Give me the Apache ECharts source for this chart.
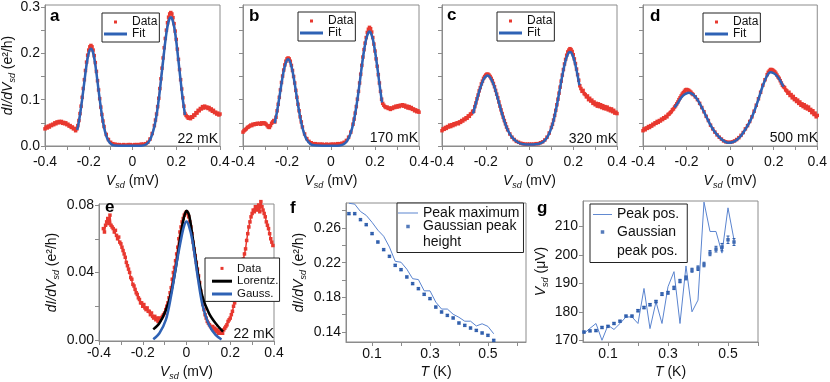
<!DOCTYPE html>
<html>
<head>
<meta charset="utf-8">
<script src="https://cdn.jsdelivr.net/npm/echarts@6.0.0/dist/echarts.min.js"></script>
<style>
  html, body { margin: 0; padding: 0; background: #fff; }
  #chart { width: 830px; height: 382px; }
</style>
</head>
<body>
<div id="chart"></div>
<script>
// ---------------- data ----------------
// panels a-d : dI/dV vs Vsd, [Vsd (mV), dI/dV (e^2/h)]
const dataA = [[-0.400,.037],[-0.395,.041],[-0.390,.039],[-0.385,.043],[-0.380,.041],[-0.375,.045],[-0.370,.044],[-0.365,.047],[-0.360,.046],[-0.355,.050],[-0.350,.048],[-0.345,.052],[-0.340,.050],[-0.335,.053],[-0.330,.051],[-0.325,.053],[-0.320,.049],[-0.315,.051],[-0.310,.048],[-0.305,.050],[-0.300,.046],[-0.295,.047],[-0.290,.043],[-0.285,.044],[-0.280,.040],[-0.275,.041],[-0.270,.037],[-0.265,.038],[-0.260,.033],
  [-0.255,.037],[-0.250,.044],[-0.245,.055],[-0.240,.070],[-0.235,.086],[-0.230,.105],[-0.225,.124],[-0.220,.143],[-0.215,.163],[-0.210,.181],[-0.205,.196],[-0.200,.207],[-0.195,.214],[-0.190,.217],[-0.185,.214],[-0.180,.207],[-0.175,.195],[-0.170,.180],[-0.165,.161],[-0.160,.141],[-0.155,.121],[-0.150,.102],[-0.145,.084],[-0.140,.068],[-0.135,.054],[-0.130,.042],[-0.120,.025],[-0.110,.014],[-0.100,.008],[-0.090,.005],[-0.080,.004],[-0.070,.003],[-0.060,.003],[-0.050,.002],[-0.040,.003],[-0.030,.002],[-0.020,.003],[-0.010,.003],[0,.002],[0.010,.003],[0.020,.003],[0.030,.003],[0.040,.004],[0.050,.004],[0.060,.005],[0.070,.008],[0.080,.015],[0.090,.027],[0.100,.044],[0.105,.056],[0.110,.069],[0.115,.085],[0.120,.103],[0.125,.124],[0.130,.145],[0.135,.168],[0.140,.190],[0.145,.212],[0.150,.232],[0.155,.250],[0.160,.266],[0.165,.278],[0.170,.285],[0.175,.288],[0.180,.285],[0.185,.277],[0.190,.264],[0.195,.248],[0.200,.230],[0.205,.209],[0.210,.187],[0.215,.165],[0.220,.143],[0.225,.123],[0.230,.104],[0.235,.086],[0.240,.070],
  [0.245,.066],[0.250,.063],[0.255,.060],[0.260,.062],[0.265,.059],[0.270,.063],[0.275,.062],[0.280,.067],[0.285,.066],[0.290,.072],[0.295,.071],[0.300,.077],[0.305,.076],[0.310,.081],[0.315,.080],[0.320,.085],[0.325,.082],[0.330,.086],[0.335,.083],[0.340,.084],[0.345,.081],[0.350,.083],[0.355,.078],[0.360,.080],[0.365,.075],[0.370,.077],[0.375,.072],[0.380,.073],[0.385,.069],[0.390,.071],[0.395,.067],[0.400,.069]];
const fitA = [[-0.253,.035],[-0.25,.040],[-0.24,.067],[-0.23,.101],[-0.22,.139],[-0.21,.175],[-0.20,.201],[-0.19,.210],[-0.18,.201],[-0.17,.175],[-0.16,.139],[-0.15,.101],[-0.14,.067],[-0.13,.040],[-0.12,.022],[-0.11,.011],[-0.10,.005],[-0.09,.002],[-0.08,.001],[-0.04,.0005],[0,.0005],[0.04,.0008],[0.06,.003],[0.07,.007],[0.08,.013],[0.09,.025],[0.10,.042],[0.11,.067],[0.12,.100],[0.13,.141],[0.14,.184],[0.15,.226],[0.16,.258],[0.17,.276],[0.175,.278],[0.18,.276],[0.19,.258],[0.20,.226],[0.21,.184],[0.22,.141],[0.23,.100],[0.24,.067]];

const dataB = [[-0.400,.030],[-0.395,.033],[-0.390,.035],[-0.385,.037],[-0.380,.040],[-0.375,.041],[-0.370,.043],[-0.365,.045],[-0.360,.044],[-0.355,.047],[-0.350,.046],[-0.345,.048],[-0.340,.047],[-0.335,.049],[-0.330,.048],[-0.325,.049],[-0.320,.047],[-0.315,.050],[-0.310,.048],[-0.305,.050],[-0.300,.049],[-0.295,.047],[-0.290,.044],[-0.285,.041],[-0.280,.040],[-0.275,.044],[-0.270,.049],[-0.265,.052],[-0.260,.055],
  [-0.255,.052],[-0.250,.062],[-0.245,.076],[-0.240,.090],[-0.235,.105],[-0.230,.121],[-0.225,.137],[-0.220,.151],[-0.215,.164],[-0.210,.175],[-0.205,.183],[-0.200,.188],[-0.195,.190],[-0.190,.188],[-0.185,.183],[-0.180,.174],[-0.175,.163],[-0.170,.150],[-0.165,.136],[-0.160,.120],[-0.155,.105],[-0.150,.090],[-0.145,.076],[-0.140,.063],[-0.135,.052],[-0.130,.041],[-0.120,.026],[-0.110,.016],[-0.100,.010],[-0.090,.007],[-0.080,.005],[-0.070,.005],[-0.060,.004],[-0.050,.004],[-0.040,.004],[-0.030,.003],[-0.020,.004],[-0.010,.003],[0,.004],[0.010,.004],[0.020,.004],[0.030,.005],[0.040,.005],[0.050,.006],[0.060,.008],[0.070,.012],[0.080,.019],[0.090,.030],[0.100,.047],[0.105,.058],[0.110,.071],[0.115,.085],[0.120,.101],[0.125,.118],[0.130,.136],[0.135,.155],[0.140,.174],[0.145,.192],[0.150,.208],[0.155,.222],[0.160,.234],[0.165,.245],[0.170,.252],[0.175,.256],[0.180,.253],[0.185,.246],[0.190,.234],[0.195,.220],[0.200,.205],[0.205,.188],[0.210,.172],[0.215,.154],[0.220,.136],[0.225,.118],[0.230,.101],
  [0.235,.092],[0.240,.088],[0.245,.085],[0.250,.083],[0.255,.084],[0.260,.081],[0.265,.082],[0.270,.079],[0.275,.082],[0.280,.081],[0.285,.084],[0.290,.083],[0.295,.086],[0.300,.084],[0.305,.087],[0.310,.085],[0.315,.088],[0.320,.087],[0.325,.089],[0.330,.086],[0.335,.088],[0.340,.084],[0.345,.086],[0.350,.082],[0.355,.085],[0.360,.081],[0.365,.083],[0.370,.079],[0.375,.080],[0.380,.076],[0.385,.078],[0.390,.074],[0.395,.076],[0.400,.073]];
const fitB = [[-0.256,.049],[-0.25,.063],[-0.245,.075],[-0.235,.104],[-0.225,.135],[-0.215,.162],[-0.205,.180],[-0.195,.187],[-0.185,.180],[-0.175,.162],[-0.165,.135],[-0.155,.104],[-0.145,.075],[-0.135,.050],[-0.125,.031],[-0.115,.018],[-0.105,.010],[-0.095,.005],[-0.085,.002],[-0.06,.001],[-0.02,.0005],[0.02,.0005],[0.04,.0011],[0.05,.0024],[0.06,.0048],[0.07,.0093],[0.08,.017],[0.09,.029],[0.10,.046],[0.11,.070],[0.12,.100],[0.13,.135],[0.14,.172],[0.15,.205],[0.16,.231],[0.17,.245],[0.175,.247],[0.18,.245],[0.19,.231],[0.20,.205],[0.21,.172],[0.22,.135],[0.23,.100],[0.232,.094]];

const dataC = [[-0.400,.033],[-0.395,.037],[-0.390,.036],[-0.385,.040],[-0.380,.038],[-0.375,.042],[-0.370,.041],[-0.365,.045],[-0.360,.042],[-0.355,.046],[-0.350,.044],[-0.345,.048],[-0.340,.046],[-0.335,.049],[-0.330,.050],[-0.325,.048],[-0.320,.052],[-0.315,.051],[-0.310,.055],[-0.305,.054],[-0.300,.058],[-0.295,.057],[-0.290,.061],[-0.285,.060],[-0.280,.065],[-0.275,.064],[-0.270,.069],[-0.265,.070],[-0.260,.075],
  [-0.255,.075],[-0.250,.085],[-0.245,.093],[-0.240,.102],[-0.235,.110],[-0.230,.119],[-0.225,.126],[-0.220,.134],[-0.215,.140],[-0.210,.146],[-0.205,.150],[-0.200,.153],[-0.195,.155],[-0.190,.155],[-0.185,.153],[-0.180,.150],[-0.175,.146],[-0.170,.141],[-0.165,.135],[-0.160,.128],[-0.155,.120],[-0.150,.112],[-0.145,.104],[-0.140,.095],[-0.135,.086],[-0.130,.078],[-0.125,.070],[-0.120,.062],[-0.115,.055],[-0.110,.048],[-0.105,.041],[-0.100,.035],[-0.090,.026],[-0.080,.019],[-0.070,.014],[-0.060,.010],[-0.050,.008],[-0.040,.006],[-0.030,.005],[-0.020,.004],[-0.010,.004],[0,.004],[0.010,.004],[0.020,.004],[0.030,.005],[0.040,.005],[0.050,.007],[0.060,.009],[0.070,.013],[0.080,.019],[0.090,.028],[0.100,.040],[0.105,.047],[0.110,.056],[0.115,.066],[0.120,.077],[0.125,.089],[0.130,.101],[0.135,.114],[0.140,.127],[0.145,.140],[0.150,.153],[0.155,.165],[0.160,.177],[0.165,.187],[0.170,.196],[0.175,.203],[0.180,.207],[0.185,.210],[0.190,.208],[0.195,.204],[0.200,.197],[0.205,.188],[0.210,.178],[0.215,.166],[0.220,.154],[0.225,.142],[0.230,.130],
  [0.235,.124],[0.240,.118],[0.245,.120],[0.250,.113],[0.255,.111],[0.260,.106],[0.265,.108],[0.270,.100],[0.275,.103],[0.280,.097],[0.285,.099],[0.290,.092],[0.295,.095],[0.300,.089],[0.305,.092],[0.310,.086],[0.315,.091],[0.320,.085],[0.325,.089],[0.330,.083],[0.335,.087],[0.340,.081],[0.345,.085],[0.350,.080],[0.355,.084],[0.360,.078],[0.365,.081],[0.370,.076],[0.375,.080],[0.380,.074],[0.385,.077],[0.390,.071],[0.395,.073],[0.400,.070]];
const fitC = [[-0.258,.070],[-0.25,.084],[-0.24,.101],[-0.23,.118],[-0.22,.132],[-0.21,.144],[-0.20,.150],[-0.192,.152],[-0.18,.148],[-0.17,.139],[-0.16,.127],[-0.15,.111],[-0.14,.094],[-0.13,.077],[-0.12,.061],[-0.11,.047],[-0.10,.035],[-0.09,.026],[-0.08,.019],[-0.07,.014],[-0.06,.010],[-0.05,.007],[-0.04,.005],[-0.03,.004],[-0.02,.0035],[-0.01,.003],[0,.003],[0.01,.003],[0.02,.0033],[0.03,.004],[0.04,.0045],[0.05,.006],[0.06,.008],[0.07,.012],[0.08,.018],[0.09,.027],[0.10,.039],[0.11,.055],[0.12,.076],[0.13,.100],[0.14,.126],[0.15,.152],[0.16,.175],[0.17,.192],[0.18,.202],[0.185,.203],[0.19,.202],[0.20,.192],[0.21,.175],[0.22,.152],[0.228,.131]];

const dataD = [[-0.400,.033],[-0.395,.037],[-0.390,.035],[-0.385,.039],[-0.380,.038],[-0.375,.042],[-0.370,.040],[-0.365,.044],[-0.360,.043],[-0.355,.047],[-0.350,.046],[-0.345,.050],[-0.340,.049],[-0.335,.053],[-0.330,.051],[-0.325,.055],[-0.320,.054],[-0.315,.058],[-0.310,.057],[-0.305,.061],[-0.300,.060],[-0.295,.064],[-0.290,.063],[-0.285,.068],[-0.280,.069],[-0.275,.072],[-0.270,.074],[-0.265,.078],[-0.260,.080],
  [-0.255,.084],[-0.250,.087],[-0.245,.091],[-0.240,.095],[-0.235,.100],[-0.230,.104],[-0.225,.108],[-0.220,.112],[-0.215,.115],[-0.210,.118],[-0.205,.121],[-0.200,.122],[-0.195,.121],[-0.190,.120],[-0.185,.118],[-0.180,.116],[-0.175,.113],[-0.170,.111],[-0.160,.106],[-0.150,.100],[-0.140,.092],[-0.130,.083],[-0.120,.074],[-0.110,.064],[-0.100,.055],[-0.090,.045],[-0.080,.037],[-0.070,.030],[-0.060,.024],[-0.050,.019],[-0.040,.015],[-0.030,.011],[-0.020,.009],[-0.010,.008],[0,.008],[0.010,.009],[0.020,.011],[0.030,.014],[0.040,.018],[0.050,.023],[0.060,.029],[0.070,.037],[0.080,.044],[0.090,.053],[0.100,.063],[0.110,.075],[0.120,.088],[0.130,.102],[0.140,.116],[0.150,.131],[0.160,.143],[0.170,.154],[0.175,.159],[0.180,.162],[0.185,.165],[0.190,.165],[0.195,.164],[0.200,.162],[0.205,.160],[0.210,.157],[0.215,.153],[0.220,.149],[0.225,.146],[0.230,.141],[0.235,.136],[0.240,.131],
  [0.245,.128],[0.250,.126],[0.255,.121],[0.260,.119],[0.265,.114],[0.270,.116],[0.275,.109],[0.280,.111],[0.285,.104],[0.290,.107],[0.295,.100],[0.300,.102],[0.305,.096],[0.310,.099],[0.315,.092],[0.320,.095],[0.325,.088],[0.330,.091],[0.335,.085],[0.340,.089],[0.345,.082],[0.350,.086],[0.355,.080],[0.360,.084],[0.365,.077],[0.370,.079],[0.375,.072],[0.380,.076],[0.385,.068],[0.390,.071],[0.395,.063],[0.400,.066]];
const fitD = [[-0.255,.083],[-0.24,.093],[-0.225,.104],[-0.21,.111],[-0.19,.115],[-0.17,.111],[-0.15,.100],[-0.13,.083],[-0.11,.064],[-0.09,.045],[-0.07,.030],[-0.05,.019],[-0.03,.011],[-0.01,.007],[0.01,.008],[0.03,.013],[0.05,.022],[0.07,.036],[0.09,.052],[0.11,.074],[0.13,.101],[0.15,.130],[0.17,.152],[0.185,.159],[0.20,.157],[0.215,.151],[0.23,.141],[0.245,.128]];

// panel e : zero-bias peak at 22 mK
const dataE = [[-0.380,.066],[-0.375,.064],[-0.370,.068],[-0.365,.070],[-0.360,.072],[-0.355,.069],[-0.350,.074],[-0.345,.068],[-0.340,.067],[-0.335,.066],[-0.330,.064],[-0.325,.065],[-0.320,.062],[-0.315,.060],[-0.310,.061],[-0.305,.058],[-0.300,.057],[-0.295,.055],[-0.290,.053],[-0.285,.051],[-0.280,.049],[-0.275,.046],[-0.270,.044],[-0.265,.042],[-0.260,.040],[-0.255,.037],[-0.250,.036],[-0.245,.033],[-0.240,.032],[-0.235,.030],[-0.230,.028],[-0.225,.027],[-0.220,.025],[-0.215,.024],[-0.210,.022],[-0.205,.022],[-0.200,.020],[-0.195,.021],[-0.190,.019],[-0.185,.018],[-0.180,.019],[-0.175,.017],[-0.170,.017],[-0.165,.015],[-0.160,.016],[-0.155,.014],[-0.150,.013],[-0.145,.014],[-0.140,.012],[-0.135,.013],[-0.130,.011],[-0.125,.013],[-0.120,.012],[-0.115,.013],[-0.110,.014],[-0.105,.015],[-0.100,.016],[-0.095,.018],[-0.090,.020],[-0.085,.022],[-0.080,.025],[-0.075,.028],[-0.070,.031],[-0.065,.036],[-0.060,.040],[-0.055,.043],[-0.050,.047],[-0.045,.051],[-0.040,.055],[-0.035,.060],[-0.030,.064],[-0.025,.067],[-0.020,.070],[-0.015,.072],[-0.010,.074],[-0.005,.075],[0,.076],[0.005,.075],[0.010,.073],[0.015,.070],[0.020,.067],[0.025,.063],[0.030,.058],[0.035,.054],[0.040,.050],[0.045,.046],[0.050,.042],[0.055,.038],[0.060,.034],[0.065,.029],[0.070,.025],[0.075,.021],[0.080,.018],[0.085,.015],[0.090,.013],[0.095,.011],[0.100,.010],[0.105,.009],[0.110,.008],[0.115,.007],[0.120,.008],[0.125,.006],[0.130,.007],[0.135,.005],[0.140,.006],[0.145,.004],[0.150,.005],[0.155,.004],[0.160,.005],[0.165,.004],[0.170,.006],[0.175,.007],[0.180,.008],[0.185,.009],[0.190,.011],[0.195,.012],[0.200,.013],[0.205,.015],[0.210,.017],[0.215,.020],[0.220,.022],[0.225,.025],[0.230,.028],[0.235,.032],[0.240,.035],[0.245,.038],[0.250,.041],[0.255,.045],[0.260,.048],[0.265,.051],[0.270,.054],[0.275,.059],[0.280,.063],[0.285,.067],[0.290,.070],[0.295,.073],[0.300,.075],[0.305,.077],[0.310,.076],[0.315,.079],[0.320,.077],[0.325,.078],[0.330,.080],[0.335,.076],[0.340,.082],[0.345,.079],[0.350,.077],[0.355,.075],[0.360,.073],[0.365,.070],[0.370,.068],[0.375,.066],[0.380,.063],[0.385,.060],[0.390,.058],[0.395,.056]];
const lorentzE = [[-0.152,.0063],[-0.124,.0099],[-0.094,.0178],[-0.071,.0277],[-0.048,.0435],[-0.026,.063],[-0.011,.073],[0,.0766],[0.012,.074],[0.027,.062],[0.05,.0415],[0.073,.0257],[0.103,.0158],[0.133,.0099],[0.167,.0049]];
const gaussE = [[-0.152,.0004],[-0.124,.004],[-0.094,.012],[-0.071,.0257],[-0.048,.0435],[-0.026,.059],[-0.011,.0676],[0,.0702],[0.011,.0676],[0.027,.059],[0.05,.0385],[0.073,.0207],[0.103,.0089],[0.133,.003],[0.16,.0003]];

// panels f, g : temperature dependence
const tempK = [0.02,0.04,0.06,0.08,0.10,0.12,0.14,0.16,0.18,0.20,0.22,0.24,0.26,0.28,0.30,0.32,0.34,0.36,0.38,0.40,0.42,0.44,0.46,0.48,0.50,0.52];
const peakMax = [.2885,.2875,.279,.2745,.2665,.2575,.2505,.238,.2215,.2205,.2125,.2015,.2005,.1875,.1875,.1745,.1665,.1665,.1605,.157,.1525,.1525,.147,.1495,.1465,.138];
const gaussHeight = [.2765,.2765,.2696,.2638,.2535,.2438,.235,.2273,.2169,.2119,.2035,.1958,.19,.1835,.1785,.1688,.1631,.1592,.1562,.1504,.1477,.1446,.1419,.1389,.1362,.1304];
const gaussHeightErr = [.001,.001,.001,.001,.001,.001,.001,.001,.001,.001,.001,.001,.001,.001,.001,.001,.001,.001,.001,.001,.001,.001,.001,.001,.001,.001];
const peakPos = [172.4,174.2,175.9,170,175.3,173.8,175.9,178.2,178.2,175.9,188.2,174.1,183.5,175.9,188.8,194.1,175.9,196.1,180,184.1,218.5,208.2,208.2,200.6,216.5,205.3];
const gaussPos = [172.9,173.3,173.4,174.5,174.9,175.9,176.7,178.5,178.5,180.4,181.5,182.5,183.6,186.2,186.7,188.4,190.8,191.9,194.6,195.3,196.6,200.6,202,202.7,205.3,204.5];
const gaussPosErr = [0.3,0.3,0.3,0.3,0.3,0.3,0.3,0.3,0.3,0.4,0.4,0.4,0.4,0.5,0.5,0.6,0.6,0.7,0.7,0.8,0.8,0.9,1.0,1.3,1.3,1.2];

// ticks and labels
const vsdTicks = [-0.4,-0.3,-0.2,-0.1,0,0.1,0.2,0.3,0.4];
const vsdLabels = [-0.4,-0.2,0,0.2,0.4];
const topYTicks = [0,0.05,0.1,0.15,0.2,0.25,0.3];
const topYLabels = [0,0.1,0.2,0.3];
const eYTicks = [0,0.02,0.04,0.06,0.08];
const eYLabels = [0,0.04,0.08];
const tTicks = [0.1,0.2,0.3,0.4,0.5,0.6];
const tLabels = [0.1,0.3,0.5];
const fYTicks = [0.14,0.16,0.18,0.20,0.22,0.24,0.26,0.28];
const fYLabels = [0.14,0.18,0.22,0.26];
const gYTicks = [170,180,190,200,210];
const gYLabels = [170,180,190,200,210];

const panelLetters = ['a','b','c','d','e','f','g'];
const tempText = ['22 mK','170 mK','320 mK','500 mK','22 mK'];

// ---------------- styling ----------------
const FONT = '"Liberation Sans", Arial, Helvetica, sans-serif';
const GRAY = '#8c8c8c';
const INK = '#111';
const RED = '#e8382f';
const BLUE = '#2f62b5';
const LINE_BLUE = '#5a84cf';
const MARK_BLUE = '#2a5aaa';

const grids = [
  {left: 45, top: 5, width: 175, height: 141},
  {left: 243, top: 5, width: 176, height: 141},
  {left: 442, top: 5, width: 175, height: 141},
  {left: 643, top: 5, width: 176, height: 141},
  {left: 99, top: 204, width: 175, height: 137},
  {left: 346, top: 203, width: 180, height: 139},
  {left: 583, top: 201, width: 175, height: 141}
].map(g => Object.assign({show: true, borderColor: GRAY, borderWidth: 1, backgroundColor: 'transparent'}, g));

const richName = {
  i: {fontStyle: 'italic', fontSize: 14, fontFamily: FONT, color: INK, verticalAlign: 'middle'},
  s: {fontStyle: 'italic', fontSize: 9, fontFamily: FONT, color: INK, verticalAlign: 'middle', padding: [8, 0, 0, 0]},
  n: {fontSize: 14, fontFamily: FONT, color: INK, verticalAlign: 'middle'}
};

function axis(gi, min, max, ticks, labels, fmt, extra) {
  return Object.assign({
    type: 'value', gridIndex: gi, min: min, max: max,
    axisLine: {show: true, onZero: false, lineStyle: {color: GRAY, width: 1}},
    axisTick: {show: true, length: 4, customValues: ticks, lineStyle: {color: GRAY, width: 1}},
    axisLabel: {show: !!labels, customValues: labels || [], formatter: fmt, color: INK,
      fontSize: 14, fontFamily: FONT, margin: 5},
    splitLine: {show: false},
    nameTextStyle: {fontSize: 14, fontFamily: FONT, color: INK, rich: richName}
  }, extra || {});
}

const fmt1 = v => v.toFixed(1);
const fmt2 = v => v.toFixed(2);
const fmtX = v => String(Math.round(v * 10) / 10);

const vsdName = {name: '{i|V}{s|sd}{n| (mV)}', nameLocation: 'middle'};
const didvName = {name: '{i|dI/dV}{s|sd}{n| (e²/h)}', nameLocation: 'middle', nameRotate: 90};
const tName = {name: '{i|T}{n| (K)}', nameLocation: 'middle'};

const xAxes = [0, 1, 2, 3].map(i => axis(i, -0.4, 0.4, vsdTicks, vsdLabels, fmtX, Object.assign({nameGap: 27}, vsdName)));
xAxes.forEach(a => { a.axisLabel.margin = 9; });
xAxes.push(axis(4, -0.4, 0.4, vsdTicks, vsdLabels, fmtX, Object.assign({nameGap: 23}, vsdName)));
xAxes.push(axis(5, 0.01, 0.6315, tTicks, tLabels, fmtX, Object.assign({nameGap: 23}, tName)));
xAxes.push(axis(6, 0.0167, 0.6, tTicks, tLabels, fmtX, Object.assign({nameGap: 23}, tName)));

const yAxes = [
  axis(0, 0, 0.3043, topYTicks, topYLabels, fmt1, Object.assign({nameGap: 28}, didvName)),
  axis(1, 0, 0.3043, topYTicks, null, fmt1),
  axis(2, 0, 0.3043, topYTicks, null, fmt1),
  axis(3, 0, 0.3043, topYTicks, null, fmt1),
  axis(4, -0.0006, 0.0806, eYTicks, eYLabels, fmt2, Object.assign({nameGap: 38}, didvName)),
  axis(5, 0.1285, 0.2888, fYTicks, fYLabels, fmt2, Object.assign({nameGap: 38}, didvName)),
  axis(6, 169.4, 218.9, gYTicks, gYLabels, v => String(Math.round(v)),
    Object.assign({nameGap: 33}, {name: '{i|V}{s|sd}{n| (μV)}', nameLocation: 'middle', nameRotate: 90}))
];

function dataSeries(d, gi, name) {
  return {
    name: name || 'Data', type: 'line', xAxisIndex: gi, yAxisIndex: gi, data: d,
    symbol: 'rect', symbolSize: 3.5, showAllSymbol: true, clip: false,
    itemStyle: {color: RED, borderWidth: 0},
    lineStyle: {color: RED, width: 1.5},
    emphasis: {disabled: true}, z: 2
  };
}
function fitSeries(d, gi, name, color) {
  return {
    name: name, type: 'line', xAxisIndex: gi, yAxisIndex: gi, data: d,
    smooth: 0.3, showSymbol: false, clip: false,
    itemStyle: {color: color}, lineStyle: {color: color, width: 2.5},
    emphasis: {disabled: true}, z: 3
  };
}
function zipT(vals) { return tempK.map((t, i) => [t, vals[i]]); }
function zipErr(vals, errs) { return tempK.map((t, i) => [t, vals[i], errs[i]]); }
function errorBars(d, gi) {
  return {
    type: 'custom', xAxisIndex: gi, yAxisIndex: gi, data: d, z: 4, silent: true,
    encode: {x: 0, y: 1},
    renderItem: function (params, api) {
      const x = api.value(0), y = api.value(1), e = api.value(2);
      const lo = api.coord([x, y - e]), hi = api.coord([x, y + e]);
      const st = {stroke: MARK_BLUE, lineWidth: 1};
      return {type: 'group', children: [
        {type: 'line', shape: {x1: lo[0], y1: lo[1], x2: hi[0], y2: hi[1]}, style: st},
        {type: 'line', shape: {x1: lo[0] - 1.5, y1: lo[1], x2: lo[0] + 1.5, y2: lo[1]}, style: st},
        {type: 'line', shape: {x1: hi[0] - 1.5, y1: hi[1], x2: hi[0] + 1.5, y2: hi[1]}, style: st}
      ]};
    }
  };
}

const series = [
  dataSeries(dataA, 0), fitSeries(fitA, 0, 'Fit', BLUE),
  dataSeries(dataB, 1), fitSeries(fitB, 1, 'Fit', BLUE),
  dataSeries(dataC, 2), fitSeries(fitC, 2, 'Fit', BLUE),
  dataSeries(dataD, 3), fitSeries(fitD, 3, 'Fit', BLUE),
  dataSeries(dataE, 4),
  fitSeries(lorentzE, 4, 'Lorentz.', '#000'),
  fitSeries(gaussE, 4, 'Gauss.', BLUE),
  {name: 'Peak maximum', type: 'line', xAxisIndex: 5, yAxisIndex: 5, data: zipT(peakMax),
    showSymbol: false, itemStyle: {color: LINE_BLUE}, lineStyle: {color: LINE_BLUE, width: 1}, z: 2},
  {name: 'Gaussian peak\nheight', type: 'scatter', xAxisIndex: 5, yAxisIndex: 5, data: zipT(gaussHeight),
    symbol: 'rect', symbolSize: 3.5, itemStyle: {color: MARK_BLUE}, z: 3},
  errorBars(zipErr(gaussHeight, gaussHeightErr), 5),
  {name: 'Peak pos.', type: 'line', xAxisIndex: 6, yAxisIndex: 6, data: zipT(peakPos),
    showSymbol: false, itemStyle: {color: LINE_BLUE}, lineStyle: {color: LINE_BLUE, width: 1}, z: 2},
  {name: 'Gaussian\npeak pos.', type: 'scatter', xAxisIndex: 6, yAxisIndex: 6, data: zipT(gaussPos),
    symbol: 'rect', symbolSize: 3.5, itemStyle: {color: MARK_BLUE}, z: 3},
  errorBars(zipErr(gaussPos, gaussPosErr), 6)
];

// ---------------- legends ----------------
const DOT = 'path://M0,0H1V1H0Z';
const THIN = 'path://M0,0H20V1H0Z';
// marker square sitting at the top of a taller icon box, so it lines up with the first text line
const DOT_TOP_F = 'path://M0,0H1V1H0ZM0,5.57';
const DOT_TOP_G = 'path://M0,0H1V1H0ZM0,6.43';
function legend(items, left, top, extra) {
  return Object.assign({
    orient: 'vertical', left: left, top: top, data: items, selectedMode: false,
    backgroundColor: '#fff', borderColor: '#222', borderWidth: 1, borderRadius: 0,
    padding: [3, 2, 2, 2], itemGap: 0, itemWidth: 23, itemHeight: 3,
    itemStyle: {borderWidth: 0},
    textStyle: {fontFamily: FONT, fontSize: 12, color: INK, lineHeight: 11}
  }, extra || {});
}
const fitItems = [{name: 'Data', icon: DOT}, {name: 'Fit', icon: 'rect'}];
const legends = [
  legend(fitItems, 102, 13),
  legend(fitItems, 298, 12),
  legend(fitItems, 497, 12),
  legend(fitItems, 703, 13),
  legend([{name: 'Data', icon: DOT}, {name: 'Lorentz.', icon: 'rect'}, {name: 'Gauss.', icon: 'rect'}], 205, 258,
    {padding: [4, 1, 1, 7], itemWidth: 20, textStyle: {fontFamily: FONT, fontSize: 11.5, color: INK, lineHeight: 12.8}}),
  legend([{name: 'Peak maximum', icon: THIN}, {name: 'Gaussian peak\nheight', icon: DOT_TOP_F}], 397, 203,
    {padding: [2, 4, 2, 1], itemWidth: 20, itemHeight: 19.5, itemGap: -2.5,
     textStyle: {fontFamily: FONT, fontSize: 14, color: INK, lineHeight: 16}}),
  legend([{name: 'Peak pos.', icon: THIN}, {name: 'Gaussian\npeak pos.', icon: DOT_TOP_G}], 590, 204,
    {padding: [1, 8, 2, 3], itemWidth: 19, itemHeight: 22.5, itemGap: -1.5,
     textStyle: {fontFamily: FONT, fontSize: 14, color: INK, lineHeight: 19}})
];

// ---------------- annotations ----------------
const letterPos = [[50, 16], [249, 16], [447, 15], [650, 16], [105, 207], [290, 208], [537, 208]];
const tempPos = [[218, 139], [418, 138], [617, 139], [818, 138], [274, 334]];
const graphics = [];
panelLetters.forEach((t, i) => graphics.push({
  type: 'text', x: letterPos[i][0], y: letterPos[i][1], z: 10,
  style: {text: t, font: 'bold 17px ' + FONT, fill: '#000', align: 'left', verticalAlign: 'middle'}
}));
tempText.forEach((t, i) => graphics.push({
  type: 'text', x: tempPos[i][0], y: tempPos[i][1], z: 10,
  style: {text: t, font: '14px ' + FONT, fill: INK, align: 'right', verticalAlign: 'middle'}
}));

const chart = echarts.init(document.getElementById('chart'), null, {renderer: 'canvas'});
chart.setOption({
  animation: false,
  backgroundColor: '#fff',
  textStyle: {fontFamily: FONT},
  grid: grids,
  xAxis: xAxes,
  yAxis: yAxes,
  legend: legends,
  series: series,
  graphic: graphics
});
</script>
</body>
</html>
